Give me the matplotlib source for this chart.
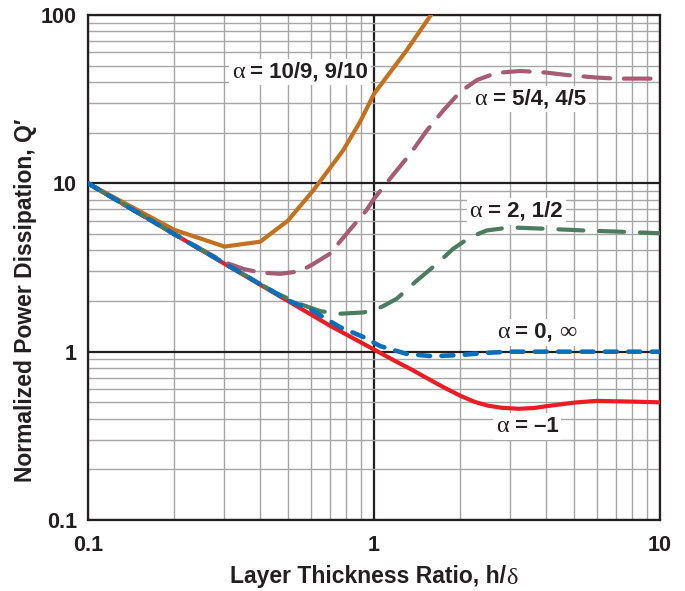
import matplotlib
matplotlib.use("Agg")
import matplotlib.pyplot as plt
from matplotlib.ticker import LogLocator, NullFormatter, FixedLocator, FixedFormatter
from matplotlib.offsetbox import TextArea, HPacker, AnnotationBbox

plt.rcParams['font.family'] = ['Liberation Sans', 'DejaVu Sans']

# curves (h/delta vs Q')
x_red = [0.1, 0.2, 0.3, 0.5, 0.7, 1.0, 1.2, 1.34, 1.5, 1.75, 2.0, 2.25, 2.5, 2.8, 3.2, 3.6, 4.0, 5.0, 6.0, 8.0, 10]
q_red = [10, 5.0, 3.33, 2.0, 1.43, 1.03, 0.87, 0.79, 0.71, 0.615, 0.548, 0.503, 0.478, 0.464, 0.458, 0.462, 0.474, 0.498, 0.51, 0.505, 0.50]

x_blue = [0.1, 0.2, 0.3, 0.5, 0.6, 0.76, 0.92, 1.05, 1.3, 1.6, 2.0, 2.5, 3.0, 4.0, 6.0, 10]
q_blue = [10, 5.0, 3.35, 2.02, 1.78, 1.40, 1.22, 1.08, 0.97, 0.94, 0.955, 0.985, 1.0, 1.0, 1.0, 1.0]

x_green = [0.1, 0.2, 0.3, 0.45, 0.55, 0.65, 0.76, 0.92, 1.06, 1.2, 1.41, 1.66, 1.89, 2.17, 2.48, 3.0, 4.0, 5.4, 7.5, 10]
q_green = [10, 5.0, 3.35, 2.25, 1.92, 1.74, 1.68, 1.71, 1.84, 2.06, 2.64, 3.33, 4.08, 4.79, 5.25, 5.47, 5.37, 5.25, 5.15, 5.05]

x_mauve = [0.1, 0.2, 0.3, 0.35, 0.4, 0.47, 0.55, 0.61, 0.7, 0.82, 0.94, 1.0, 1.15, 1.34, 1.53, 1.75, 2.0, 2.29, 2.68, 3.24, 4.0, 4.72, 6.0, 7.0, 10]
q_mauve = [10, 5.0, 3.4, 3.1, 2.95, 2.9, 3.0, 3.3, 3.81, 5.25, 6.9, 8.1, 10.9, 15.0, 20.6, 27.2, 34.9, 41.1, 45.3, 46.5, 45.5, 44.0, 42.5, 41.9, 41.9]

x_orange = [0.1, 0.2, 0.3, 0.4, 0.5, 0.614, 0.78, 0.894, 1.0, 1.3, 1.6]
q_orange = [10, 5.3, 4.21, 4.5, 6.0, 9.1, 15.7, 23.2, 34.0, 61.6, 103]

x_ticks = [0.1, 1, 10]
x_tick_labels = ['0.1', '1', '10']
y_ticks = [0.1, 1, 10, 100]
y_tick_labels = ['0.1', '1', '10', '100']

fig = plt.figure(figsize=(6.85, 5.91), dpi=100)
ax = fig.add_axes([88 / 685, 71 / 591, 572 / 685, 505 / 591])
ax.set_xscale('log')
ax.set_yscale('log')
ax.set_xlim(0.1, 10)
ax.set_ylim(0.1, 100)

ax.xaxis.set_major_locator(FixedLocator(x_ticks))
ax.xaxis.set_major_formatter(FixedFormatter(x_tick_labels))
ax.yaxis.set_major_locator(FixedLocator(y_ticks))
ax.yaxis.set_major_formatter(FixedFormatter(y_tick_labels))
for axis in (ax.xaxis, ax.yaxis):
    axis.set_minor_locator(LogLocator(base=10, subs=range(2, 10)))
    axis.set_minor_formatter(NullFormatter())

ax.grid(which='minor', color='#a6a6a6', lw=1.0, zorder=1)
ax.grid(which='major', color='#231f20', lw=1.6, zorder=2)
ax.set_axisbelow(True)
ax.tick_params(which='both', length=0)
ax.tick_params(axis='x', pad=11, labelsize=15.5)
ax.tick_params(axis='y', pad=8, labelsize=15.5)
for lab in ax.get_xticklabels() + ax.get_yticklabels():
    lab.set_fontweight('bold')
    lab.set_color('#231f20')
for sp in ax.spines.values():
    sp.set_linewidth(1.6)
    sp.set_color('#231f20')

lw = 3.0
ax.plot(x_red, q_red, color='#ec1c24', lw=lw, zorder=4, solid_capstyle='round')
ax.plot(x_orange, q_orange, color='#c4701d', lw=lw, zorder=4)
ax.plot(x_mauve, q_mauve, color='#a85c74', lw=lw, zorder=4,
        linestyle=(0, (6.4, 3.3)), dash_capstyle='round')
ax.plot(x_green, q_green, color='#4c7c5e', lw=lw, zorder=5,
        linestyle=(0, (6.0, 3.8)), dash_capstyle='round')
ax.plot(x_blue, q_blue, color='#0a6fba', lw=3.3, zorder=6,
        linestyle=(0, (2.6, 2.5)), dash_capstyle='round')


def alpha_label(x, y, parts, xycoords='data', zorder=3):
    # parts: list of (text, bold?) pieces; non-bold pieces use a serif face like Symbol
    boxes = []
    for txt, bold in parts:
        if bold:
            props = dict(fontsize=16, fontweight='bold', color='#231f20', family=['Liberation Sans', 'DejaVu Sans'])
        else:
            props = dict(fontsize=17.5, color='#231f20', family=['Liberation Serif', 'DejaVu Serif'])
        boxes.append(TextArea(txt, textprops=props))
    pack = HPacker(children=boxes, align='baseline', pad=0, sep=0)
    ab = AnnotationBbox(pack, (x, y), xycoords=xycoords, frameon=True, pad=0.2,
                        bboxprops=dict(fc='white', ec='none'), zorder=zorder)
    ax.add_artist(ab)
    return ab


alpha_label(0.551, 45.8, [('α', False), (' = 10/9, 9/10', True)])
alpha_label(3.51, 31.6, [('α', False), (' = 5/4, 4/5', True)])
alpha_label(3.14, 6.81, [('α', False), (' = 2, 1/2', True)])
alpha_label(3.70, 1.30, [('α', False), (' = 0, ', True), ('∞', False)])
alpha_label(3.44, 0.358, [('α', False), (' = –1', True)])

# axis titles
xl = AnnotationBbox(HPacker(children=[
        TextArea('Layer Thickness Ratio, h/', textprops=dict(fontsize=16.5, fontweight='bold', color='#231f20')),
        TextArea('δ', textprops=dict(fontsize=17.5, color='#231f20', family=['Liberation Serif', 'DejaVu Serif']))],
        align='baseline', pad=0, sep=0),
    (374 / 685, 14 / 591), xycoords='figure fraction', frameon=False)
fig.add_artist(xl)
fig.text(26 / 685, 291 / 591, 'Normalized Power Dissipation, Q′', rotation=90,
         ha='center', va='center', fontsize=16.5, fontweight='bold', color='#231f20')

fig.savefig('out.png', dpi=100)
